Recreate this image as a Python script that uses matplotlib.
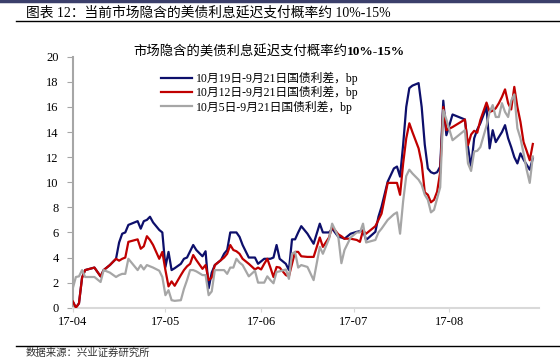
import numpy as np
import pandas as pd
import matplotlib
matplotlib.use("Agg")
import matplotlib.pyplot as plt
import matplotlib.dates as mdates

# days counted from 2017-04-01
days = [0, 1, 2, 3, 4, 7, 9, 10, 12, 14, 15, 16, 17, 18, 21, 22, 23, 24, 25, 26,
        28, 29, 30, 31, 32, 33, 35, 36, 37, 38, 39, 40, 42, 43, 44, 45, 46, 48, 49, 50,
        51, 52, 53, 54, 55, 57, 59, 60, 61, 62, 63, 64, 65, 66, 67, 69, 70, 71, 72, 73,
        74, 76, 78, 80, 81, 83, 84, 86, 87, 88, 90, 92, 93, 94, 95, 98, 99, 100, 102, 104,
        105, 106, 107, 108, 109, 110, 112, 113, 114, 115, 116, 117, 118, 119, 120, 121, 123, 125, 127, 128,
        129, 130, 131, 132, 134, 135, 136, 137, 138, 139, 140, 141, 142, 143, 144, 145, 146, 147, 148, 149]

spread_1019 = [0.5, 0.0, 0.35, 2.4, 3.0, 3.2, 2.5, 3.0, 3.4, 3.9, 5.2, 5.9, 6.0, 6.6, 6.9, 6.3, 6.9, 7.0, 7.25, 6.8,
               6.2, 6.0, 3.25, 4.45, 3.0, 3.15, 3.5, 3.9, 4.0, 4.5, 5.0, 4.6, 4.1, 4.5, 1.55, 2.8, 3.4, 3.8, 4.3, 4.6,
               6.0, 6.0, 6.0, 5.65, 5.0, 4.0, 4.0, 3.5, 3.7, 3.9, 3.9, 3.9, 4.0, 5.0, 3.9, 3.5, 3.0, 5.45, 5.45, 6.0,
               6.5, 5.9, 5.1, 6.7, 6.0, 6.0, 6.3, 5.65, 5.6, 5.5, 5.9, 6.05, 6.1, 6.15, 5.4, 6.05, 7.25, 8.05, 10.05, 11.1,
               11.25, 10.45, 13.0, 16.0, 17.5, 17.7, 17.9, 16.0, 13.0, 11.1, 10.8, 10.7, 10.8, 11.25, 16.5, 13.75, 15.4, 15.2, 15.0, 12.8,
               11.2, 13.5, 14.2, 14.7, 16.0, 12.7, 14.15, 13.2, 13.6, 14.0, 14.55, 13.5, 12.8, 12.0, 11.5, 12.3, 11.8, 11.4, 11.0, 11.9]

spread_1012 = [0.5, 0.0, 0.35, 2.4, 3.0, 3.2, 2.5, 3.0, 3.4, 3.9, 3.75, 3.9, 4.0, 5.25, 5.45, 4.7, 4.9, 5.7, 5.4, 5.0,
               3.9, 4.45, 3.0, 1.7, 2.1, 1.75, 2.6, 3.0, 3.3, 3.5, 4.2, 3.8, 3.1, 3.4, 2.2, 2.4, 3.4, 3.8, 4.0, 4.3,
               5.0, 4.6, 4.5, 4.3, 3.9, 3.5, 3.05, 3.2, 3.05, 3.5, 3.9, 3.2, 2.45, 3.25, 3.2, 2.6, 2.5, 3.5, 4.45, 4.45,
               4.1, 4.05, 4.05, 5.6, 4.85, 5.6, 6.45, 5.85, 5.7, 5.5, 5.5, 5.4, 5.25, 6.15, 5.9, 6.5, 7.0, 7.5, 9.95, 9.95,
               9.95, 9.0, 11.5, 13.5, 14.7, 14.0, 12.7, 11.5, 9.2, 9.0, 8.4, 8.6, 9.25, 10.8, 16.0, 14.15, 14.4, 14.7, 15.0, 12.95,
               13.8, 14.1, 13.95, 14.95, 16.35, 15.6, 15.7, 15.9, 16.3, 16.8, 17.4, 16.3, 15.8, 17.6, 16.0, 14.8, 13.2, 12.5, 11.75, 13.05]

spread_1005 = [1.55, 2.45, 2.5, 3.0, 2.45, 2.45, 2.05, 3.0, 2.8, 2.45, 2.6, 2.7, 2.7, 3.9, 3.0, 3.4, 3.05, 3.4, 3.3, 3.2,
               2.95, 2.45, 1.0, 1.4, 0.6, 0.55, 0.6, 1.5, 2.2, 3.0, 3.0, 2.9, 2.6, 2.6, 1.0, 1.3, 3.0, 3.0, 3.0, 2.7,
               3.2, 3.2, 3.9, 3.6, 3.4, 2.5, 2.95, 2.0, 2.0, 2.0, 2.5, 2.2, 1.95, 2.85, 2.9, 3.05, 2.3, 4.3, 4.45, 3.2,
               3.4, 3.25, 2.2, 4.85, 4.3, 5.5, 6.7, 5.65, 3.55, 4.6, 5.6, 6.0, 6.0, 6.7, 5.2, 5.4, 6.0, 6.3, 7.0, 7.45,
               7.6, 5.9, 8.5, 10.5, 11.0, 10.7, 10.2, 9.8, 9.0, 8.6, 7.6, 7.8, 8.7, 9.6, 15.75, 15.0, 13.35, 13.75, 14.15, 11.5,
               10.9, 12.45, 12.5, 12.8, 14.5, 15.6, 16.15, 15.2, 15.2, 16.3, 15.6, 15.2, 16.5, 17.0, 14.3, 13.5, 12.3, 11.0, 9.95, 12.05]

labels = ["10月19日-9月21日国债利差，bp", "10月12日-9月21日国债利差，bp", "10月5日-9月21日国债利差，bp"]
colors = ["#0d0f6b", "#c00000", "#a6a6a6"]

header = "图表 12：当前市场隐含的美债利息延迟支付概率约 10%-15%"
title_cn = "市场隐含的美债利息延迟支付概率约"
title_num = "10%-15%"
source = "数据来源：兴业证券研究所"

FONTS = ["Liberation Serif", "Noto Sans CJK SC"]
plt.rcParams["font.family"] = FONTS

dates = pd.Timestamp("2017-04-01") + pd.to_timedelta(days, unit="D")

fig = plt.figure(figsize=(5.6, 3.57), dpi=100)
ax = fig.add_axes([0.13, 0.138, 0.8325, 0.703])

for series, label, color, z in zip([spread_1019, spread_1012, spread_1005], labels, colors, [2, 3, 4]):
    ax.plot(dates, series, color=color, linewidth=1.6, label=label, zorder=z)

ax.set_ylim(0, 20)
ax.set_yticks(np.arange(0, 21, 2))
ax.set_xlim(pd.Timestamp("2017-04-01"), pd.Timestamp("2017-08-30"))
ax.xaxis.set_major_locator(mdates.MonthLocator())
ax.xaxis.set_major_formatter(mdates.DateFormatter("%y-%m"))

for side in ["top", "right"]:
    ax.spines[side].set_visible(False)
ax.spines["left"].set_color("#a6a6a6")
ax.spines["left"].set_linewidth(1.5)
ax.spines["bottom"].set_color("#d9d9d9")
ax.spines["bottom"].set_linewidth(1.5)
ax.tick_params(axis="y", length=4, width=0.8, color="#a6a6a6", labelsize=9, pad=6)
ax.tick_params(axis="x", length=3, width=0.8, color="#d9d9d9", labelsize=9, pad=3)

leg = ax.legend(loc="upper left", bbox_to_anchor=(0.18, 0.96), frameon=False,
                fontsize=8.5, handlelength=2.6, handletextpad=0.3, labelspacing=0.1,
                borderaxespad=0)

# chart title, numbers in bold
fig.text(0.62, 0.855, title_cn, fontsize=9.6, ha="right", va="center")
fig.text(0.62, 0.855, title_num, fontsize=9.6, fontweight="bold", ha="left", va="center")

# page decorations
fig.add_artist(plt.Line2D([0, 1], [0.997, 0.997], color="#3b3f6b", linewidth=2.5))
fig.text(0.046, 0.963, header, fontsize=9.9, va="center", ha="left")
fig.add_artist(plt.Line2D([0.029, 1], [0.94, 0.94], color="black", linewidth=1))
fig.add_artist(plt.Line2D([0.029, 1], [0.031, 0.031], color="black", linewidth=1))
fig.text(0.046, 0.012, source, fontsize=7.5, va="center", ha="left", color="#333333")

fig.savefig("out.png", dpi=100)
